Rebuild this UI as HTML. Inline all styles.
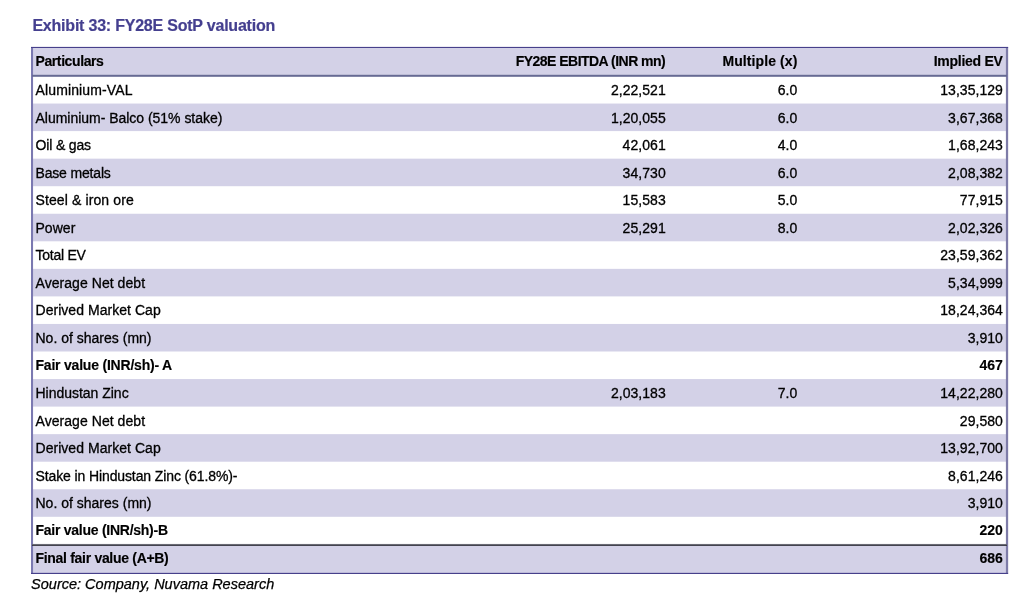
<!DOCTYPE html>
<html lang="en"><head><meta charset="utf-8"><title>Exhibit 33: FY28E SotP valuation</title>
<style>
html,body{margin:0;padding:0;background:#fff;}
body{width:1024px;height:609px;position:relative;overflow:hidden;font-family:"Liberation Sans",sans-serif;color:#000;}
.title{position:absolute;left:32.4px;top:11.8px;height:28px;line-height:28px;font-size:16px;font-weight:bold;color:#443f8f;letter-spacing:-0.215px;white-space:nowrap;-webkit-text-stroke:0.2px #443f8f;}
.row{position:absolute;left:33px;width:973px;font-size:14px;white-space:nowrap;-webkit-text-stroke:0.3px #000;}
.bg{position:absolute;left:0;top:0;}
.row.b{font-weight:bold;-webkit-text-stroke:0.15px #000;}
.c{position:absolute;top:1.0px;height:100%;}
.c1{left:2.5px;}
.c2{right:340.3px;text-align:right;}
.c3{right:208.7px;text-align:right;}
.c4{right:3.1px;text-align:right;}
.ln{position:absolute;}
.src{position:absolute;left:31.1px;top:570.2px;height:28px;line-height:28px;font-size:14.5px;font-style:italic;white-space:nowrap;-webkit-text-stroke:0.25px #000;}
</style></head><body>
<div class="title">Exhibit 33: FY28E SotP valuation</div>
<svg class="bg" width="1024" height="609" viewBox="0 0 1024 609"><rect x="32" y="47.5" width="975" height="27.7" fill="#d3d1e7"/><rect x="32" y="103.55" width="975" height="27.55" fill="#d3d1e7"/><rect x="32" y="158.65" width="975" height="27.55" fill="#d3d1e7"/><rect x="32" y="213.75" width="975" height="27.55" fill="#d3d1e7"/><rect x="32" y="268.85" width="975" height="27.55" fill="#d3d1e7"/><rect x="32" y="323.95" width="975" height="27.55" fill="#d3d1e7"/><rect x="32" y="379.05" width="975" height="27.55" fill="#d3d1e7"/><rect x="32" y="434.15" width="975" height="27.55" fill="#d3d1e7"/><rect x="32" y="489.25" width="975" height="27.55" fill="#d3d1e7"/><rect x="32" y="544.35" width="975" height="29.15" fill="#d3d1e7"/><rect x="31" y="47" width="2.05" height="527" fill="#7b79b1"/><rect x="1005.9" y="47" width="2.25" height="527" fill="#7e7ca8"/><rect x="31" y="46.9" width="977.1" height="1.1" fill="#46408b"/><rect x="31" y="572.85" width="977.1" height="1.15" fill="#46408b"/><rect x="32" y="74.8" width="975" height="2.0" fill="#666a93"/><rect x="32" y="543.95" width="975" height="1.0" fill="#6c6c75"/><rect x="32" y="544.9" width="975" height="1.0" fill="#33333d"/></svg>
<div class="row b" style="top:47.10px;height:27.55px;line-height:27.55px"><span class="c c1" style="letter-spacing:-0.402px;">Particulars</span><span class="c c2" style="letter-spacing:-0.525px;margin-right:0.525px;">FY28E EBITDA (INR mn)</span><span class="c c3" style="letter-spacing:0.09px;margin-right:-0.09px;">Multiple (x)</span><span class="c c4" style="letter-spacing:-0.255px;margin-right:0.255px;">Implied EV</span></div>
<div class="row" style="top:76.00px;height:27.55px;line-height:27.55px"><span class="c c1" style="letter-spacing:0.131px;">Aluminium-VAL</span><span class="c c2" style="letter-spacing:0.047px;margin-right:-0.047px;">2,22,521</span><span class="c c3" style="letter-spacing:0.052px;margin-right:-0.052px;">6.0</span><span class="c c4" style="letter-spacing:0.049px;margin-right:-0.049px;">13,35,129</span></div>
<div class="row" style="top:103.55px;height:27.55px;line-height:27.55px"><span class="c c1" style="letter-spacing:-0.023px;">Aluminium- Balco (51% stake)</span><span class="c c2" style="letter-spacing:0.047px;margin-right:-0.047px;">1,20,055</span><span class="c c3" style="letter-spacing:0.052px;margin-right:-0.052px;">6.0</span><span class="c c4" style="letter-spacing:0.047px;margin-right:-0.047px;">3,67,368</span></div>
<div class="row" style="top:131.10px;height:27.55px;line-height:27.55px"><span class="c c1" style="letter-spacing:-0.149px;">Oil &amp; gas</span><span class="c c2" style="letter-spacing:0.055px;margin-right:-0.055px;">42,061</span><span class="c c3" style="letter-spacing:0.052px;margin-right:-0.052px;">4.0</span><span class="c c4" style="letter-spacing:0.047px;margin-right:-0.047px;">1,68,243</span></div>
<div class="row" style="top:158.65px;height:27.55px;line-height:27.55px"><span class="c c1" style="letter-spacing:-0.168px;">Base metals</span><span class="c c2" style="letter-spacing:0.055px;margin-right:-0.055px;">34,730</span><span class="c c3" style="letter-spacing:0.052px;margin-right:-0.052px;">6.0</span><span class="c c4" style="letter-spacing:0.047px;margin-right:-0.047px;">2,08,382</span></div>
<div class="row" style="top:186.20px;height:27.55px;line-height:27.55px"><span class="c c1" style="letter-spacing:0.114px;">Steel &amp; iron ore</span><span class="c c2" style="letter-spacing:0.055px;margin-right:-0.055px;">15,583</span><span class="c c3" style="letter-spacing:0.052px;margin-right:-0.052px;">5.0</span><span class="c c4" style="letter-spacing:0.055px;margin-right:-0.055px;">77,915</span></div>
<div class="row" style="top:213.75px;height:27.55px;line-height:27.55px"><span class="c c1" style="letter-spacing:0.037px;">Power</span><span class="c c2" style="letter-spacing:0.055px;margin-right:-0.055px;">25,291</span><span class="c c3" style="letter-spacing:0.052px;margin-right:-0.052px;">8.0</span><span class="c c4" style="letter-spacing:0.047px;margin-right:-0.047px;">2,02,326</span></div>
<div class="row" style="top:241.30px;height:27.55px;line-height:27.55px"><span class="c c1" style="letter-spacing:-0.242px;">Total EV</span><span class="c c4" style="letter-spacing:0.049px;margin-right:-0.049px;">23,59,362</span></div>
<div class="row" style="top:268.85px;height:27.55px;line-height:27.55px"><span class="c c1" style="letter-spacing:0.055px;">Average Net debt</span><span class="c c4" style="letter-spacing:0.047px;margin-right:-0.047px;">5,34,999</span></div>
<div class="row" style="top:296.40px;height:27.55px;line-height:27.55px"><span class="c c1" style="letter-spacing:0.04px;">Derived Market Cap</span><span class="c c4" style="letter-spacing:0.049px;margin-right:-0.049px;">18,24,364</span></div>
<div class="row" style="top:323.95px;height:27.55px;line-height:27.55px"><span class="c c1" style="letter-spacing:0.006px;">No. of shares (mn)</span><span class="c c4" style="letter-spacing:0.05px;margin-right:-0.05px;">3,910</span></div>
<div class="row b" style="top:351.00px;height:27.55px;line-height:27.55px"><span class="c c1" style="letter-spacing:-0.209px;">Fair value (INR/sh)- A</span><span class="c c4" style="letter-spacing:0.073px;margin-right:-0.073px;">467</span></div>
<div class="row" style="top:379.05px;height:27.55px;line-height:27.55px"><span class="c c1" style="letter-spacing:-0.019px;">Hindustan Zinc</span><span class="c c2" style="letter-spacing:0.047px;margin-right:-0.047px;">2,03,183</span><span class="c c3" style="letter-spacing:0.052px;margin-right:-0.052px;">7.0</span><span class="c c4" style="letter-spacing:0.049px;margin-right:-0.049px;">14,22,280</span></div>
<div class="row" style="top:406.60px;height:27.55px;line-height:27.55px"><span class="c c1" style="letter-spacing:0.055px;">Average Net debt</span><span class="c c4" style="letter-spacing:0.055px;margin-right:-0.055px;">29,580</span></div>
<div class="row" style="top:434.15px;height:27.55px;line-height:27.55px"><span class="c c1" style="letter-spacing:0.04px;">Derived Market Cap</span><span class="c c4" style="letter-spacing:0.049px;margin-right:-0.049px;">13,92,700</span></div>
<div class="row" style="top:461.70px;height:27.55px;line-height:27.55px"><span class="c c1" style="letter-spacing:-0.112px;">Stake in Hindustan Zinc (61.8%)-</span><span class="c c4" style="letter-spacing:0.047px;margin-right:-0.047px;">8,61,246</span></div>
<div class="row" style="top:489.25px;height:27.55px;line-height:27.55px"><span class="c c1" style="letter-spacing:0.006px;">No. of shares (mn)</span><span class="c c4" style="letter-spacing:0.05px;margin-right:-0.05px;">3,910</span></div>
<div class="row b" style="top:516.30px;height:27.55px;line-height:27.55px"><span class="c c1" style="letter-spacing:-0.259px;">Fair value (INR/sh)-B</span><span class="c c4" style="letter-spacing:0.073px;margin-right:-0.073px;">220</span></div>
<div class="row b" style="top:543.85px;height:27.55px;line-height:27.55px"><span class="c c1" style="letter-spacing:-0.303px;">Final fair value (A+B)</span><span class="c c4" style="letter-spacing:0.073px;margin-right:-0.073px;">686</span></div>
<div class="src">Source: Company, Nuvama Research</div>
</body></html>
